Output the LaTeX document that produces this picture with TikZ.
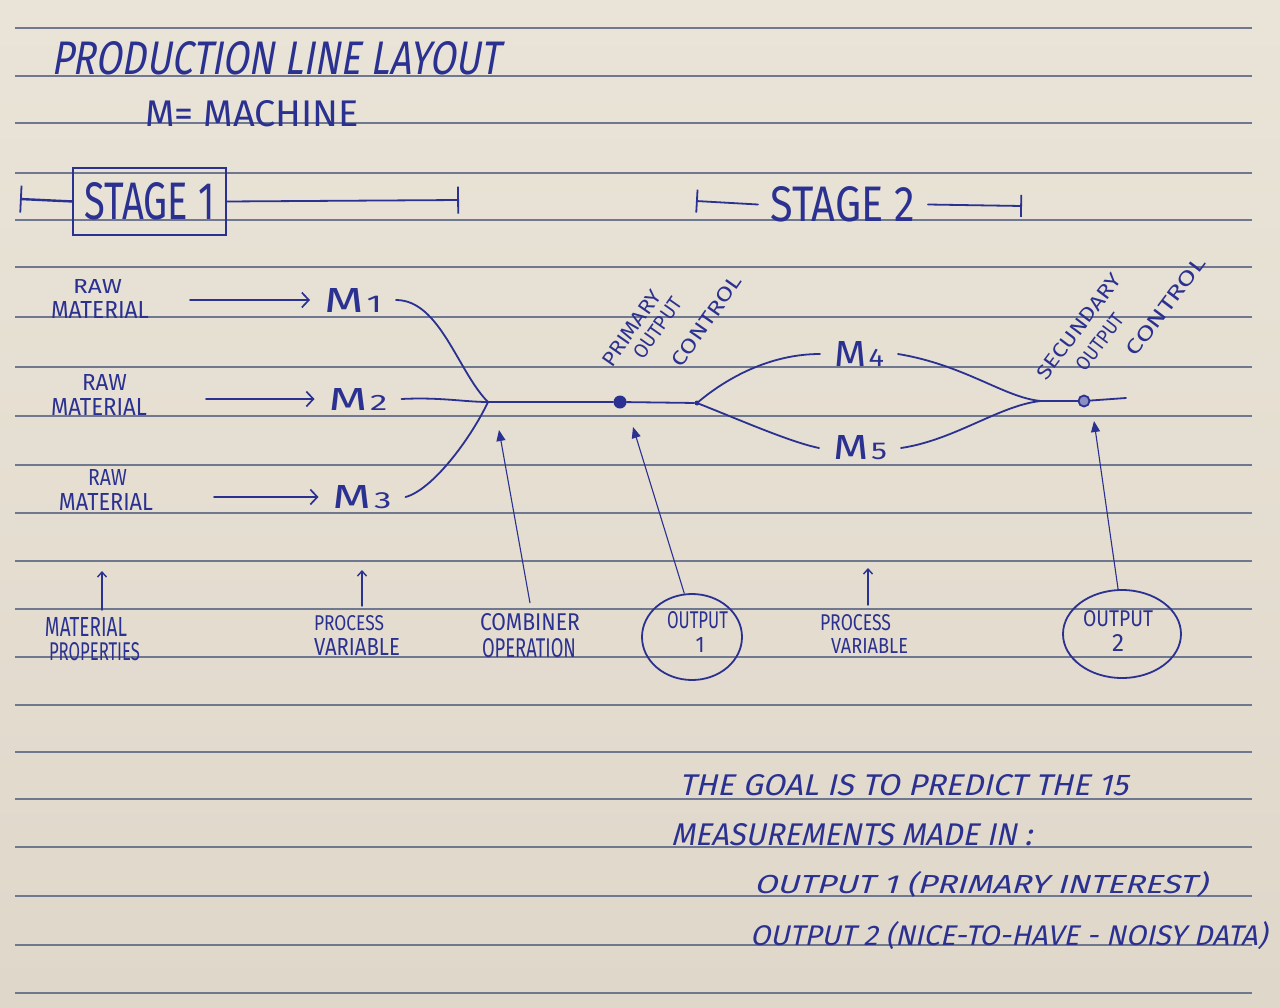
\documentclass[tikz,border=0pt]{standalone}
\usepackage{fontspec}
\usetikzlibrary{arrows.meta,shapes.geometric}
\newfontfamily\hand{Fira Sans}
\newfontfamily\handsl[FakeSlant=0.22]{Fira Sans}
\newcommand\hw[3]{\resizebox{#1pt}{#2pt}{\hand #3}}
\newcommand\hs[3]{\resizebox{#1pt}{#2pt}{\handsl #3}}
\newcommand\msub[2]{M\kern0.06em{\fontsize{7}{7}\selectfont #2}}
\definecolor{ink}{HTML}{2B3190}
\definecolor{rulec}{HTML}{707890}
\definecolor{paperA}{HTML}{EAE4D8}
\definecolor{paperB}{HTML}{DFD7CA}
\begin{document}
\begin{tikzpicture}[x=1pt,y=-1pt,
  txt/.style={inner sep=0pt,outer sep=0pt,text=ink},
  pen/.style={draw=ink,line width=1.8pt,line cap=round,line join=round},
  rulestyle/.style={draw=rulec,line width=1.3pt},
  rawarrow/.style={pen,-{Straight Barb[length=7pt,width=15pt,line width=1.7pt]}},
  uparrow/.style={pen,line width=1.4pt,-{Straight Barb[length=5pt,width=9pt,line width=1.4pt]}},
  triarrow/.style={draw=ink,line width=1.1pt,-{Triangle[length=11pt,width=9pt]}},
  mach/.style={txt,outer xsep=14pt},
  lab/.style={txt,anchor=base west},
  labup/.style={lab,outer ysep=7pt},
  rot/.style={txt,anchor=base west},
  outc/.style={ellipse,draw=ink,line width=1.8pt,inner sep=0pt},
]
\useasboundingbox (0,0) rectangle (1280,1007);
\shade[top color=paperA,bottom color=paperB] (0,0) rectangle (1280,1007);
% ruled lines
\foreach \yy in {28,76,123,173,220,267,317,367,416,465,513,561,609,657,705,752,799,847,896,945,993}{
  \draw[rulestyle] (15,\yy) -- (1252,\yy);
}
% title
\node[lab] (title) at (51,74) {\hs{449}{33}{PRODUCTION LINE LAYOUT}};
\node[lab] (legend) at (145,126) {\hw{214}{26}{M= MACHINE}};

% stage 1
\node[txt,draw=ink,line width=2pt,minimum width=153pt,minimum height=67pt] (s1) at (149.5,201.5) {\hw{130}{37}{STAGE 1}};
\coordinate (s1l) at (20,199);
\coordinate (s1r) at (459,200);
\draw[pen,line width=2.4pt,{Bar[width=27pt,line width=1.8pt]}-] (s1l) -- (s1.west);
\draw[pen,-{Bar[width=27pt,line width=1.8pt]}] (s1.east) -- (s1r);

% stage 2
\node[txt,outer xsep=13pt] (s2) at (843,204.5) {\hw{144}{35}{STAGE 2}};
\coordinate (s2l) at (696,201);
\coordinate (s2r) at (1022,206);
\draw[pen,{Bar[width=23pt,line width=1.8pt]}-] (s2l) -- (s2.west);
\draw[pen,-{Bar[width=22pt,line width=1.8pt]}] (s2.east) -- (s2r);

% raw material labels
\node[lab] (raw1) at (73,293) {\hw{49}{14}{RAW}};
\node[lab] (mat1) at (51,318) {\hw{98}{17}{MATERIAL}};
\node[lab] (raw2) at (82,390) {\hw{45}{16}{RAW}};
\node[lab] (mat2) at (51,415) {\hw{96}{17}{MATERIAL}};
\node[lab] (raw3) at (88,485) {\hw{39}{16}{RAW}};
\node[lab] (mat3) at (59,510) {\hw{94}{17}{MATERIAL}};

% machines
\node[mach] (m1) at (353,300) {\hw{58}{24}{\msub{M}{1}}};
\node[mach] (m2) at (358,399) {\hw{59}{22}{\msub{M}{2}}};
\node[mach] (m3) at (362,497) {\hw{59}{23}{\msub{M}{3}}};
\node[mach] (m4) at (859,354) {\hw{50}{25}{\msub{M}{4}}};
\node[mach] (m5) at (860,448) {\hw{54}{24}{\msub{M}{5}}};

\coordinate (ra1) at (190,300);
\coordinate (ra2) at (206,399);
\coordinate (ra3) at (214,497);
\draw[rawarrow] (ra1) -- (m1.west);
\draw[rawarrow] (ra2) -- (m2.west);
\draw[rawarrow] (ra3) -- (m3.west);

% junctions and line
\coordinate (j1) at (488,402);
\coordinate (j3) at (1041,401);
\coordinate (lend) at (1126,398);
\node[circle,fill=ink,inner sep=0pt,minimum size=13pt] (dot1) at (620,402) {};
\node[circle,fill=ink,inner sep=0pt,minimum size=5pt] (jd2) at (697,403) {};
\node[circle,fill=ink!55,draw=ink,line width=1.8pt,inner sep=0pt,minimum size=11pt] (dot2) at (1084,401) {};

\draw[pen] (m1.east) .. controls (440,300) and (458,372) .. (j1);
\draw[pen] (m2.east) .. controls (440,397) and (465,402) .. (j1);
\draw[pen] (m3.east) .. controls (432,490) and (470,440) .. (j1);
\draw[pen] (j1) -- (dot1) -- (jd2);
\draw[pen] (jd2) .. controls (727,378) and (770,354) .. (m4.west);
\draw[pen] (jd2) .. controls (740,420) and (790,442) .. (m5.west);
\draw[pen] (m4.east) .. controls (965,365) and (1005,398) .. (j3);
\draw[pen] (m5.east) .. controls (955,440) and (1000,405) .. (j3);
\draw[pen] (j3) -- (dot2) -- (lend);

% rotated labels (one node per group)
\node[rot,rotate=55] (pctl) at (659,401) {\vbox{\offinterlineskip
  \hbox{\hw{88}{14}{PRIMARY}}\vskip7pt
  \hbox{\hspace*{24pt}\hw{70}{14}{OUTPUT}}\vskip22pt
  \hbox{\hspace*{40pt}\hw{106}{14}{CONTROL}}}};
\node[rot,rotate=53] (sctl) at (1092,416) {\vbox{\offinterlineskip
  \hbox{\hw{127}{14}{SECUNDARY}}\vskip12pt
  \hbox{\hspace*{31pt}\hw{66}{14}{OUTPUT}}\vskip17pt
  \hbox{\hspace*{73pt}\hw{118}{14}{CONTROL}}}};

% bottom labels
\node[labup] (mp1) at (45,636) {\hw{82}{19}{MATERIAL}};
\node[lab] (mp2) at (49,660) {\hw{91}{18}{PROPERTIES}};
\node[labup,outer ysep=9pt] (pv1) at (314,630) {\hw{70}{15}{PROCESS}};
\node[lab] (pv1b) at (314,655) {\hw{86}{17}{VARIABLE}};
\node[labup,outer ysep=10pt] (cb1) at (480,630) {\hw{100}{17}{COMBINER}};
\node[lab] (cb2) at (482,657) {\hw{94}{19}{OPERATION}};
\node[labup,outer ysep=9pt] (pv2) at (820,630) {\hw{71}{16}{PROCESS}};
\node[lab] (pv2b) at (831,653) {\hw{77}{15}{VARIABLE}};

\node[outc,minimum width=100pt,minimum height=86pt] (out1) at (692,637) {};
\node[lab] (o1a) at (667,628) {\hw{61}{17}{OUTPUT}};
\node[txt] (o1b) at (700,645) {\hw{9}{15}{1}};
\node[outc,minimum width=118pt,minimum height=88pt] (out2) at (1122,634) {};
\node[lab] (o2a) at (1083,626) {\hw{70}{16}{OUTPUT}};
\node[txt] (o2b) at (1118,643) {\hw{12}{17}{2}};

% annotation arrows
\coordinate (u1) at (102,571);
\coordinate (u2) at (362,570);
\coordinate (u3) at (868,568);
\draw[uparrow] (u1 |- mp1.north) -- (u1);
\draw[uparrow] (u2 |- pv1.north) -- (u2);
\draw[uparrow] (u3 |- pv2.north) -- (u3);
\coordinate (t1) at (499,430);
\coordinate (t2) at (633,427);
\coordinate (t3) at (1094,421);
\draw[triarrow] (cb1.north) -- (t1);
\draw[triarrow] (out1.100) -- (t2);
\draw[triarrow] (out2.95) -- (t3);

% goal text
\node[lab] (g1) at (679,795) {\hs{449}{21}{THE GOAL IS TO PREDICT THE 15}};
\node[lab] (g2) at (671,845) {\hs{361}{22}{MEASUREMENTS MADE IN :}};
\node[lab] (g3) at (754,893) {\hs{453}{22}{OUTPUT 1 (PRIMARY INTEREST)}};
\node[lab] (g4) at (750,945) {\hs{517}{24}{OUTPUT 2 (NICE-TO-HAVE - NOISY DATA)}};
\end{tikzpicture}
\end{document}
